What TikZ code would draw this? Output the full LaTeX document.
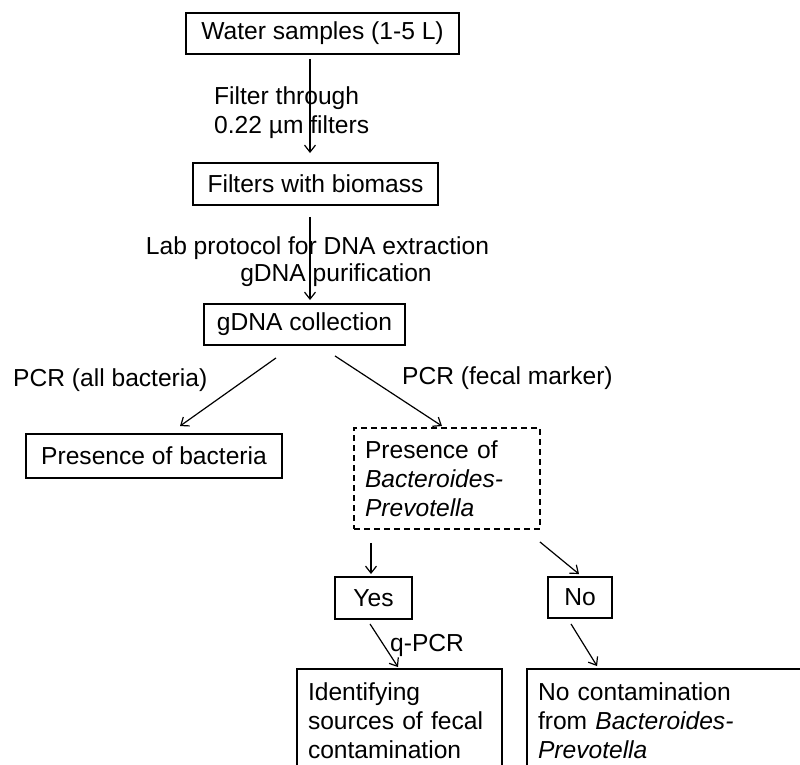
\documentclass[tikz,border=0pt]{standalone}
\usepackage{fontspec}
\setmainfont{Liberation Sans}
\usetikzlibrary{arrows.meta}
\begin{document}
\begin{tikzpicture}[x=1pt,y=-1pt,
  every node/.style={font=\fontsize{24.6}{29}\selectfont},
  box/.style={draw, line width=1.9pt, rectangle, inner sep=0pt, align=center},
  tbox/.style={draw, line width=1.9pt, rectangle, inner xsep=11pt, inner ysep=0pt, align=left},
  dbox/.style={tbox, dash pattern=on 6pt off 4pt},
  lbl/.style={inner sep=0pt, align=left},
  arr/.style={line width=1.2pt, -{Straight Barb[length=7pt,width=11pt,line width=1.2pt]}}]
\useasboundingbox (0,0) rectangle (800,765);
\clip (0,0) rectangle (800,765);
% boxes
\node[box, minimum width=273pt, minimum height=41pt] (b1) at (322.5,33.5) {Water samples (1-5 L)};
\node[box, minimum width=245pt, minimum height=42pt] (b2) at (315.5,184) {Filters with biomass};
\node[box, minimum width=201pt, minimum height=41pt] (b3) at (304.5,324.5) {gDNA collection};
\node[box, minimum width=256pt, minimum height=44pt] (bact) at (154,456) {Presence of bacteria};
\node[dbox, text width=164pt, minimum height=101pt] (bp) at (447,478.5) {Presence of\\\textit{Bacteroides-}\\\textit{Prevotella}};
\node[box, minimum width=77pt, minimum height=42pt] (yes) at (373.5,598) {Yes};
\node[box, minimum width=64pt, minimum height=41pt] (no) at (580,597.5) {No};
\node[tbox, text width=183pt, minimum height=104pt] (ident) at (399.5,721) {Identifying\\sources of fecal\\contamination};
\node[tbox, text width=320pt, minimum height=104pt] (nocont) at (698,721) {No contamination\\from \textit{Bacteroides-}\\\textit{Prevotella}};
% labels
\node[lbl, anchor=west] (l1) at (214,112.5) {Filter through\\0.22 µm filters};
\node[lbl] (l2) at (317.5,248) {Lab protocol for DNA extraction};
\node[lbl] (l3) at (336,275) {gDNA purification};
\node[lbl, anchor=west] (l4) at (13,380) {PCR (all bacteria)};
\node[lbl, anchor=west] (l5) at (402,378) {PCR (fecal marker)};
\node[lbl, anchor=west] (l6) at (390,645) {q-PCR};
% arrows
\draw[arr] ([xshift=-12.5pt,yshift=-4pt]b1.south) -- ([xshift=-5.5pt,yshift=9pt]b2.north);
\draw[arr] ([xshift=-5.5pt,yshift=-11pt]b2.south) -- ([xshift=5.5pt,yshift=3pt]b3.north);
\draw[arr] ([xshift=-28.5pt,yshift=-12pt]b3.south) -- ([xshift=26pt,yshift=7pt]bact.north);
\draw[arr] ([xshift=30.5pt,yshift=-10pt]b3.south) -- ([xshift=-5pt,yshift=1pt]bp.north);
\draw[arr] ([xshift=-76pt,yshift=-13pt]bp.south) -- ([xshift=-2.5pt,yshift=2pt]yes.north);
\draw[arr] ([xshift=-1pt,yshift=-12pt]bp.south east) -- ([xshift=-1pt,yshift=2pt]no.north);
\draw[arr] ([xshift=-3.5pt,yshift=-4pt]yes.south) -- ([xshift=-1.5pt,yshift=1pt]ident.north);
\draw[arr] ([xshift=-9pt,yshift=-5pt]no.south) -- ([xshift=71pt,yshift=2pt]nocont.north west);
\end{tikzpicture}
\end{document}
